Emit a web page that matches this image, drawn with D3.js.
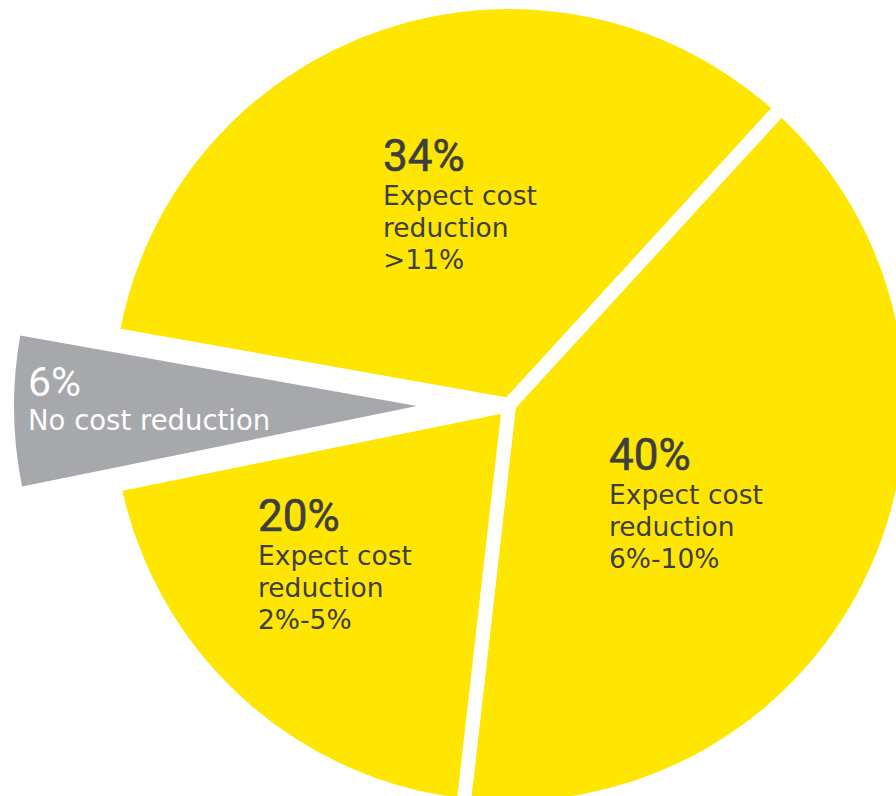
<!DOCTYPE html>
<html>
<head>
<meta charset="utf-8">
<script src="https://cdn.jsdelivr.net/npm/d3@7"></script>
<style>
  html, body { margin: 0; padding: 0; background: #ffffff; }
  svg { display: block; }
</style>
</head>
<body>
<svg id="chart" width="896" height="796"></svg>
<script>
// Survey shares, in pie order (clockwise from the upper-left slice)
const shares = [34, 40, 20, 6];
const headlines = ["34%", "40%", "20%", "6%"];
const captions = [
  ["Expect cost", "reduction", ">11%"],
  ["Expect cost", "reduction", "6%-10%"],
  ["Expect cost", "reduction", "2%-5%"],
  ["No cost reduction"]
];
// the "no reduction" slice is pulled out of the pie
const pulledOut = [false, false, false, true];

const cx = 509, cy = 405;
const radius = 403;
const deg = Math.PI / 180;
const startAngle = -79.9 * deg;

const yellow = "#FFE600";
const grey = "#A7A8AB";
const ink = "#3E3E40";
const headFont = "Roboto, 'Open Sans', sans-serif";
const bodyFont = "'DejaVu Sans', 'Noto Sans', sans-serif";

const svg = d3.select("#chart");
const g = svg.append("g").attr("transform", `translate(${cx},${cy})`);

const pie = d3.pie()
  .sort(null)
  .value(d => d)
  .startAngle(startAngle)
  .endAngle(startAngle + 2 * Math.PI);

const arcs = pie(shares);
const arc = d3.arc().innerRadius(0).outerRadius(radius);

const explode = 92;
function offset(a, i) {
  if (!pulledOut[i]) return [0, 0];
  const mid = (a.startAngle + a.endAngle) / 2;
  return [Math.sin(mid) * explode, -Math.cos(mid) * explode];
}

g.selectAll("path.slice")
  .data(arcs)
  .join("path")
  .attr("class", "slice")
  .attr("d", arc)
  .attr("transform", (a, i) => {
    const [dx, dy] = offset(a, i);
    return `translate(${dx},${dy})`;
  })
  .attr("fill", (a, i) => pulledOut[i] ? grey : yellow)
  .attr("stroke", (a, i) => pulledOut[i] ? "none" : "#ffffff")
  .attr("stroke-width", 14)
  .attr("stroke-linejoin", "miter");

// Label blocks: left edge and headline baseline, relative to the pie centre
const labelLayout = [
  { x: -126, y: -234 },
  { x: 100, y: 65 },
  { x: -251, y: 126 },
  { x: -481, y: -9 }
];

const labels = g.selectAll("g.label")
  .data(arcs)
  .join("g")
  .attr("class", "label")
  .attr("transform", (a, i) => `translate(${labelLayout[i].x},${labelLayout[i].y})`)
  .attr("fill", (a, i) => pulledOut[i] ? "#ffffff" : ink);

labels.append("text")
  .attr("x", 0)
  .attr("y", 0)
  .style("font-family", headFont)
  .style("font-size", (a, i) => pulledOut[i] ? "41px" : "44px")
  .style("font-weight", 400)
  .attr("stroke", (a, i) => pulledOut[i] ? "none" : ink)
  .attr("stroke-width", 0.6)
  .text((a, i) => headlines[i]);

labels.each(function (a, i) {
  const t = d3.select(this).append("text")
    .style("font-family", bodyFont)
    .style("font-size", pulledOut[i] ? "27.5px" : "26.5px")
    .style("font-weight", 400);
  captions[i].forEach((line, k) => {
    t.append("tspan")
      .attr("x", 0)
      .attr("y", 34 + k * 32)
      .text(line);
  });
});
</script>
</body>
</html>
